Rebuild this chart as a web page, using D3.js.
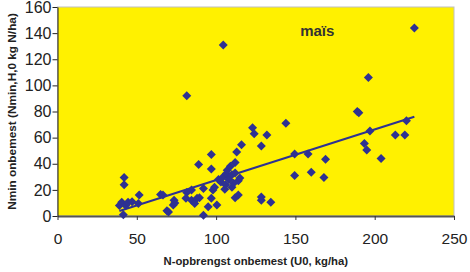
<!DOCTYPE html>
<html>
<head>
<meta charset="utf-8">
<script src="https://cdn.jsdelivr.net/npm/d3@7"></script>
<style>
  body { margin: 0; background: #fff; }
  svg { display: block; font-family: Arial, "Liberation Sans", sans-serif; }
</style>
</head>
<body>
<div id="grafiek"></div>
<script>
// Waarden (N-opbrengst onbemest, Nmin onbemest)
const uOnbemest = [
  39, 40.5, 41.5, 42, 42, 43, 44.5, 47, 51, 51.5,
  65, 66.5, 69, 70, 73, 73.5, 74,
  81.5, 81.5, 81, 84.5, 84.5, 86.5, 88, 89, 89.5,
  92, 92, 95, 97, 97, 97, 98, 99, 100.5, 101.5,
  103, 104.5, 104.5, 105.5, 106, 106.5, 107, 108, 109, 110, 110, 111, 112, 112, 112, 113, 114, 114, 115, 116,
  123, 124, 132, 128.5, 128.5, 128.5, 134.5,
  144, 149.5, 149.5, 158, 160, 168, 169,
  189, 190, 196, 197, 193.5, 195, 204, 213, 219, 220, 225
];
const nminOnbemest = [
  8, 10.5, 1, 29.5, 24, 8, 10.5, 11, 9.5, 16,
  16.5, 16, 4, 3, 8.5, 12, 10,
  92, 18, 13.5, 20, 12, 9.5, 13.5, 39.5, 14,
  21, 0.5, 7, 47, 36, 13.5, 20, 22, 8.5, 28,
  26, 131, 30, 20.5, 24, 32.5, 35, 28, 38, 31.5, 22, 25, 41, 14, 33, 49, 16, 27, 29, 54.5,
  67.5, 63, 62, 53.5, 14.5, 12, 10.5,
  71, 47.5, 31, 47.5, 33.5, 29.5, 43.5,
  80, 79, 106, 65, 55.5, 50.5, 44, 62, 62, 73, 144
];

const trendX = [39, 225];
const trendY = [3.8, 76];

const xTicks = [0, 50, 100, 150, 200, 250];
const yTicks = [0, 20, 40, 60, 80, 100, 120, 140, 160];

const margin = { top: 7, right: 16, bottom: 56, left: 57.5 },
  width = 454 - margin.left,
  height = 216 - margin.top;

const svg = d3.select('#grafiek')
  .append('svg')
  .attr('width', 470)
  .attr('height', 272);

const g = svg.append('g')
  .attr('transform', `translate(${margin.left}, ${margin.top})`);

const x = d3.scaleLinear().domain([0, 250]).range([0, width]);
const y = d3.scaleLinear().domain([0, 160]).range([height, 0]);

// plotvlak
g.append('rect')
  .attr('width', width)
  .attr('height', height)
  .attr('fill', '#fff100')
  .attr('stroke', '#c0c0c0')
  .attr('stroke-width', 1);

// X as
const xAxis = g.append('g')
  .attr('transform', `translate(0, ${height})`)
  .call(d3.axisBottom(x).tickValues(xTicks).tickSize(4).tickPadding(13).tickSizeOuter(0));
xAxis.select('.domain').attr('stroke', '#555').attr('stroke-width', 2);
xAxis.selectAll('.tick line').attr('stroke', '#333');
xAxis.selectAll('text').attr('font-size', 15.5).attr('fill', '#222');

// Y as
const yAxis = g.append('g')
  .call(d3.axisLeft(y).tickValues(yTicks).tickSize(5).tickPadding(1).tickSizeOuter(0));
yAxis.select('.domain').attr('stroke', '#222');
yAxis.selectAll('.tick line').attr('stroke', '#222');
yAxis.selectAll('text').attr('font-size', 16).attr('fill', '#222');

// trendlijn
g.append('line')
  .attr('x1', x(trendX[0])).attr('y1', y(trendY[0]))
  .attr('x2', x(trendX[1])).attr('y2', y(trendY[1]))
  .attr('stroke', '#2e3192')
  .attr('stroke-width', 2);

// punten (ruitjes)
const r = 4.5;
const diamond = `M0,${-r}L${r},0L0,${r}L${-r},0Z`;
g.append('g')
  .selectAll('path')
  .data(d3.range(uOnbemest.length))
  .enter()
  .append('path')
  .attr('d', diamond)
  .attr('transform', i => `translate(${x(uOnbemest[i])}, ${y(nminOnbemest[i])})`)
  .attr('fill', '#2e3192');

// label
g.append('text')
  .attr('x', x(153))
  .attr('y', y(137.8))
  .attr('font-size', 15)
  .attr('font-weight', 'bold')
  .attr('fill', '#333')
  .text('maïs');

// astitels
svg.append('text')
  .attr('x', margin.left + width / 2)
  .attr('y', 265)
  .attr('text-anchor', 'middle')
  .attr('font-size', 11.3)
  .attr('font-weight', 'bold')
  .attr('fill', '#222')
  .text('N-opbrengst onbemest (U0, kg/ha)');

svg.append('text')
  .attr('transform', `translate(15.5, ${margin.top + height / 2}) rotate(-90)`)
  .attr('text-anchor', 'middle')
  .attr('font-size', 11.8)
  .attr('font-weight', 'bold')
  .attr('fill', '#222')
  .text('Nmin onbemest (Nmin,H,0 kg N/ha)');
</script>
</body>
</html>
